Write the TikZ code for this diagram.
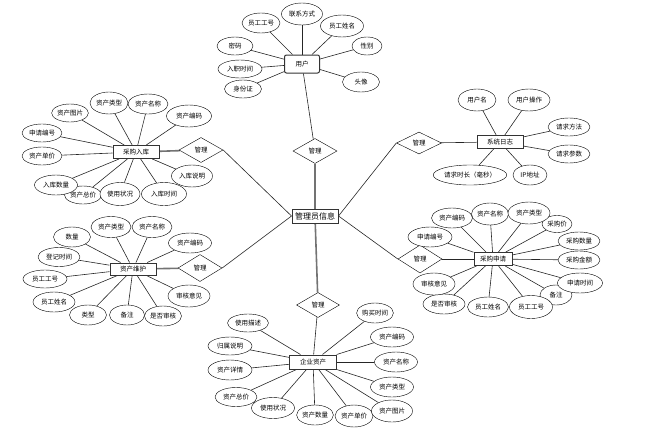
\documentclass[tikz,border=0pt]{standalone}
\usepackage{fontspec}
\setmainfont{Noto Sans CJK SC}
\usetikzlibrary{shapes.geometric, positioning, backgrounds}
\tikzset{
  attr/.style={ellipse, draw=black, fill=white, minimum width=40pt, minimum height=20pt, inner sep=0pt, font=\fontsize{6.5}{7}\selectfont},
  entity/.style={rectangle, draw=black!80, line width=1pt, fill=white, minimum width=46pt, minimum height=13pt, inner sep=1pt, font=\fontsize{6.5}{7}\selectfont},
  relation/.style={diamond, draw=black, fill=white, minimum width=44pt, minimum height=25pt, aspect=1.8, inner sep=0pt, font=\fontsize{6.5}{7}\selectfont},
  link/.style={draw=black!85, line width=0.6pt},
  strong/.style={draw=black!55, line width=1.6pt}
}

\begin{document}
\begin{tikzpicture}[x=1pt, y=-1pt]
\useasboundingbox (0,0) rectangle (661,442);

% Central entity
\node (admin) [entity, minimum height=14pt, font=\fontsize{8}{9}\selectfont] at (315,216) {管理员信息};

% User
\node (user) [entity, minimum width=35pt, minimum height=18pt, rounded corners=2pt] at (302,64) {用户};
\node (m1) [relation] at (315,151) {管理};
\node (u1) [attr, minimum width=38pt] at (261,23) {员工工号};
\node (u2) [attr, minimum width=41pt, minimum height=22pt] at (302,14) {联系方式};
\node (u3) [attr, minimum width=43pt, minimum height=22pt] at (342,26) {员工姓名};
\node (u4) [attr, minimum width=30pt, minimum height=18pt] at (367,46) {性别};
\node (u5) [attr, minimum width=37pt] at (361,82) {头像};
\node (u6) [attr, minimum width=36pt, minimum height=18pt] at (235,46) {密码};
\node (u7) [attr, minimum width=44pt, minimum height=18pt] at (240,69) {入职时间};
\node (u8) [attr, minimum width=37pt, minimum height=18pt] at (243,89) {身份证};

% System log
\node (log) [entity] at (500,142) {系统日志};
\node (m2) [relation, minimum width=45pt, minimum height=22pt] at (419,143) {管理};
\node (l1) [attr, minimum width=38pt, minimum height=22pt] at (477,100) {用户名};
\node (l2) [attr, minimum width=42pt, minimum height=22pt] at (529,100) {用户操作};
\node (l3) [attr, minimum width=42pt, minimum height=18pt] at (569,127) {请求方法};
\node (l4) [attr, minimum width=42pt, minimum height=18pt] at (569,154) {请求参数};
\node (l5) [attr, minimum width=64pt] at (470,175) {请求时长（毫秒）};
\node (l6) [attr, minimum width=34pt] at (530,175) {IP地址};

% Purchase storage
\node (stock) [entity] at (136,152) {采购入库};
\node (m3) [relation] at (201,150) {管理};
\node (i1) [attr, minimum width=36pt, minimum height=18pt] at (70,113) {资产图片};
\node (i2) [attr, minimum width=38pt, minimum height=22pt] at (109,103) {资产类型};
\node (i3) [attr, minimum width=40pt] at (148,104) {资产名称};
\node (i4) [attr, minimum width=45pt, minimum height=22pt] at (189,116) {资产编码};
\node (i5) [attr, minimum height=18pt] at (42,133) {申请编号};
\node (i6) [attr, minimum height=18pt] at (42,156) {资产单价};
\node (i8) [attr, minimum width=37pt, minimum height=18pt] at (83,195) {资产总价};
\node (i7) [attr, minimum width=43pt] at (56,185) {入库数量};
\node (i9) [attr, minimum height=23pt] at (120,194) {使用状况};
\node (i10) [attr, minimum width=45pt, minimum height=23pt] at (164,194) {入库时间};
\node (i11) [attr, minimum width=41pt, minimum height=22pt] at (192,176) {入库说明};

% Asset maintenance
\node (maint) [entity, minimum height=12pt] at (133,269) {资产维护};
\node (m4) [relation, minimum height=27pt] at (200,268) {管理};
\node (a1) [attr, minimum width=37pt] at (72,237) {数量};
\node (a2) [attr, minimum height=21pt] at (111,227) {资产类型};
\node (a3) [attr, minimum height=21pt] at (152,227) {资产名称};
\node (a4) [attr, minimum width=43pt] at (190,243) {资产编码};
\node (a5) [attr, minimum width=42pt, minimum height=19pt] at (59,257) {登记时间};
\node (a6) [attr, minimum width=44pt, minimum height=18pt] at (45,279) {员工工号};
\node (a7) [attr, minimum width=42pt] at (54,302) {员工姓名};
\node (a8) [attr, minimum width=37pt] at (88,315) {类型};
\node (a9) [attr, minimum width=35pt] at (127,315) {备注};
\node (a10) [attr, minimum width=37pt] at (163,316) {是否审核};
\node (a11) [attr, minimum width=42pt, minimum height=22pt] at (189,296) {审核意见};

% Purchase application
\node (apply) [entity, minimum width=38pt] at (493,259) {采购申请};
\node (m5) [relation, minimum height=28pt] at (420,259) {管理};
\node (p4) [attr, minimum width=30pt, minimum height=17pt] at (557,224) {采购价};
\node (p1) [attr, minimum width=41pt] at (452,218) {资产编码};
\node (p2) [attr, minimum width=37pt, minimum height=22pt] at (490,214) {资产名称};
\node (p3) [attr, minimum width=42pt, minimum height=22pt] at (529,213) {资产类型};
\node (p5) [attr, minimum width=42pt, minimum height=18pt] at (579,241) {采购数量};
\node (p6) [attr, minimum width=42pt, minimum height=18pt] at (579,260) {采购金额};
\node (p8) [attr, minimum width=32pt] at (556,295) {备注};
\node (p7) [attr, minimum width=45pt] at (580,283) {申请时间};
\node (p9) [attr, minimum width=43pt, minimum height=23pt] at (531,307) {员工工号};
\node (p10) [attr, minimum width=41pt] at (488,307) {员工姓名};
\node (p11) [attr, minimum width=42pt] at (444,304) {是否审核};
\node (p12) [attr, minimum width=42pt, minimum height=22pt] at (434,284) {审核意见};
\node (p13) [attr, minimum width=44pt] at (430,237) {申请编号};

% Enterprise assets
\node (asset) [entity, minimum width=47pt, minimum height=14pt] at (313,362) {企业资产};
\node (m6) [relation, minimum width=43pt] at (318,305) {管理};
\node (e1) [attr, minimum width=41pt, minimum height=18pt] at (248,323) {使用描述};
\node (e2) [attr, minimum width=44pt, minimum height=18pt] at (230,346) {归属说明};
\node (e3) [attr, minimum width=44pt] at (230,370) {资产详情};
\node (e4) [attr, minimum width=42pt, minimum height=19pt] at (236,397) {资产总价};
\node (e5) [attr, minimum width=43pt, minimum height=21pt] at (273,408) {使用状况};
\node (e6) [attr, minimum width=36pt] at (315,415) {资产数量};
\node (e7) [attr, minimum width=38pt, minimum height=22pt] at (354,416) {资产单价};
\node (e8) [attr, minimum width=41pt, minimum height=22pt] at (392,411) {资产图片};
\node (e9) [attr, minimum width=43pt] at (392,387) {资产类型};
\node (e10) [attr, minimum width=43pt] at (396,362) {资产名称};
\node (e11) [attr, minimum width=43pt] at (392,337) {资产编码};
\node (e12) [attr, minimum width=36pt] at (375,313) {购买时间};

% Connectors
\begin{scope}[on background layer]
\foreach \i in {1,...,8} \draw [link] (u\i) -- (user);
\foreach \i in {1,...,6} \draw [link] (l\i) -- (log);
\foreach \i in {1,...,11} \draw [link] (i\i) -- (stock);
\foreach \i in {1,...,11} \draw [link] (a\i) -- (maint);
\foreach \i in {1,...,13} \draw [link] (p\i) -- (apply);
\foreach \i in {1,...,12} \draw [link] (e\i) -- (asset);
\draw [link] (user) -- (m1);
\draw [strong] (m1) -- (admin);
\draw [link] (log) -- (m2);
\draw [link] (m2.west) -- (admin.east);
\draw [strong] (stock) -- (m3);
\draw [link] (m3.east) -- (admin.west);
\draw [strong] (maint) -- (m4);
\draw [link] (m4.east) -- (admin.west);
\draw [link] (apply) -- (m5);
\draw [link] (m5.west) -- (admin.east);
\draw [strong] (admin) -- (m6);
\draw [link] (m6) -- (asset);
\end{scope}

\end{tikzpicture}
\end{document}
